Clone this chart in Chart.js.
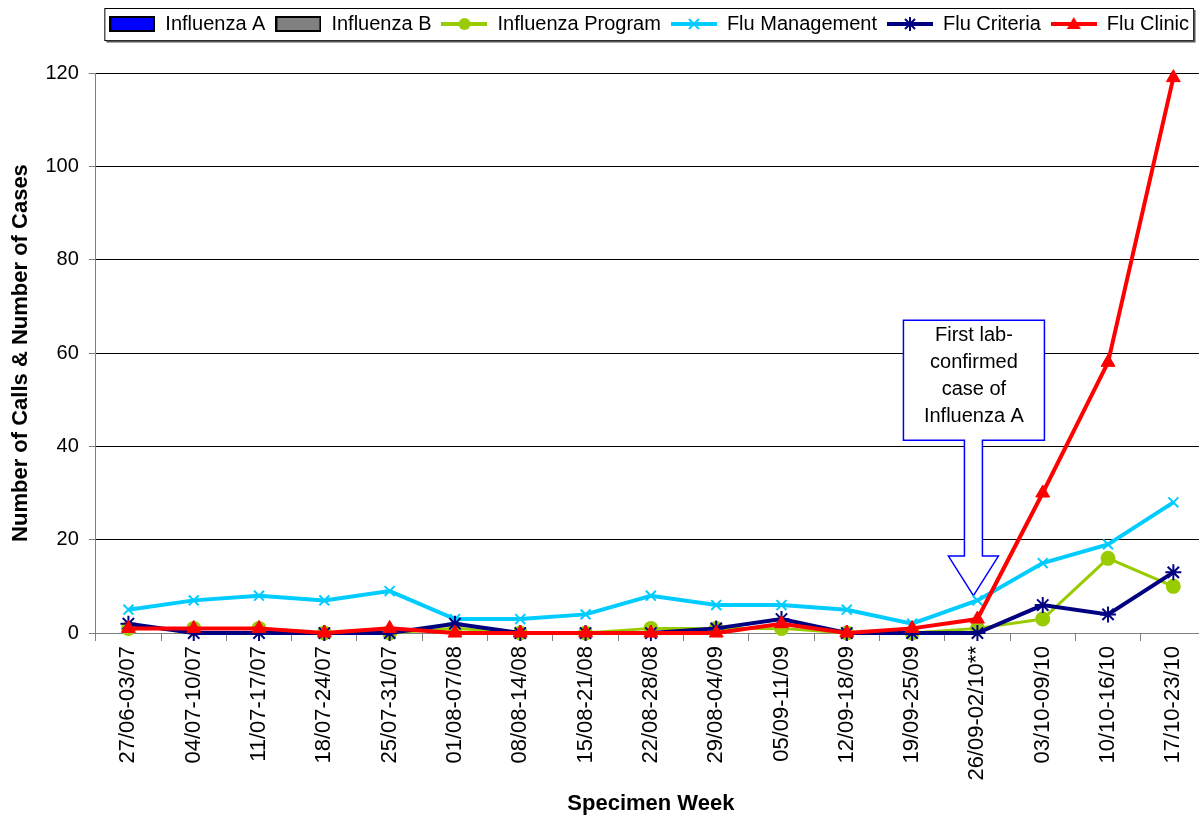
<!DOCTYPE html>
<html>
<head>
<meta charset="utf-8">
<script src="https://cdn.jsdelivr.net/npm/chart.js@4/dist/chart.umd.min.js"></script>
<style>
  body { margin: 0; background: #fff; }
  #wrap { width: 1199px; height: 821px; }
</style>
</head>
<body>
<div id="wrap"><canvas id="fluChart" width="1199" height="821"></canvas></div>
<script>
let weeks = ['27/06-03/07','04/07-10/07','11/07-17/07','18/07-24/07','25/07-31/07','01/08-07/08',
  '08/08-14/08','15/08-21/08','22/08-28/08','29/08-04/09','05/09-11/09','12/09-18/09',
  '19/09-25/09','26/09-02/10**','03/10-09/10','10/10-16/10','17/10-23/10'];
let influenzaA = [];
let influenzaB = [];
let fluProgram = [1,1,1,0,0,1,0,0,1,1,1,0,0,1,3,16,10];
let fluManagement = [5,7,8,7,9,3,3,4,8,6,6,5,2,7,15,19,28];
let fluCriteria = [2,0,0,0,0,2,0,0,0,1,3,0,0,0,6,4,13];
let fluClinic = [1,1,1,0,1,0,0,0,0,0,2,0,1,3,30,58,119];
let yTicks = [0,20,40,60,80,100,120];
let noteLines = ['First lab-','confirmed','case of','Influenza A'];
let noteWeek = 13;

const FONT = "'Liberation Sans', Arial, sans-serif";

// small legend pictures: line with marker, or filled box
function lineIcon(color, style, width) {
  let c = document.createElement('canvas');
  c.width = 46; c.height = 20;
  let g = c.getContext('2d');
  g.strokeStyle = color; g.fillStyle = color; g.lineWidth = width;
  g.beginPath(); g.moveTo(0, 10); g.lineTo(46, 10); g.stroke();
  g.lineWidth = 2;
  if (style === 'circle') {
    g.beginPath(); g.arc(23, 10, 6, 0, Math.PI * 2); g.fill();
  } else if (style === 'triangle') {
    g.beginPath(); g.moveTo(23, 3); g.lineTo(30, 15); g.lineTo(16, 15); g.closePath(); g.fill();
  } else {
    g.beginPath();
    g.moveTo(18, 5); g.lineTo(28, 15); g.moveTo(28, 5); g.lineTo(18, 15);
    if (style === 'star') { g.moveTo(23, 3); g.lineTo(23, 17); }
    g.stroke();
  }
  return c;
}
function boxIcon(color) {
  let c = document.createElement('canvas');
  c.width = 46; c.height = 18;
  let g = c.getContext('2d');
  g.fillStyle = color; g.fillRect(1, 2, 44, 14);
  g.strokeStyle = '#000'; g.lineWidth = 2; g.strokeRect(1, 2, 44, 14);
  return c;
}

const legendBox = {
  id: 'legendBox',
  beforeInit(chart) {
    // leave a gap between legend and plot
    const fit = chart.legend.fit;
    chart.legend.fit = function () { fit.call(this); this.height += 29; };
  },
  afterLayout(chart) {
    // the original plot is cut off a little past the right edge
    let area = chart.chartArea, x = chart.scales.x;
    area.right = chart.width + 7;
    area.width = area.right - area.left;
    x.right = area.right;
    x.width = x.right - x.left;
    x.configure();
  },
  afterDraw(chart) {
    let boxes = chart.legend.legendHitBoxes;
    if (!boxes || !boxes.length) return;
    let l = Math.min(...boxes.map(b => b.left)) - 5;
    let r = Math.max(...boxes.map(b => b.left + b.width)) + 4;
    let t = boxes[0].top - 6, b = boxes[0].top + boxes[0].height + 6;
    let ctx = chart.ctx;
    ctx.save();
    ctx.strokeStyle = '#000'; ctx.lineWidth = 1;
    ctx.strokeRect(l + 0.5, t + 0.5, r - l, b - t);
    ctx.strokeStyle = '#555'; ctx.lineWidth = 2;
    ctx.beginPath(); ctx.moveTo(l + 2, b + 1.5); ctx.lineTo(r + 1.5, b + 1.5); ctx.lineTo(r + 1.5, t + 2); ctx.stroke();
    ctx.restore();
  }
};

const arrowNote = {
  id: 'arrowNote',
  beforeDatasetsDraw(chart) {
    let x = chart.scales.x.getPixelForValue(noteWeek) - 4;
    let y = chart.scales.y;
    let tip = y.getPixelForValue(8), headTop = y.getPixelForValue(16.5);
    let top = y.getPixelForValue(67), bot = y.getPixelForValue(41.3);
    let ctx = chart.ctx;
    ctx.save();
    ctx.beginPath();
    ctx.moveTo(x - 70, top); ctx.lineTo(x + 71, top); ctx.lineTo(x + 71, bot);
    ctx.lineTo(x + 9, bot); ctx.lineTo(x + 9, headTop); ctx.lineTo(x + 25, headTop);
    ctx.lineTo(x, tip); ctx.lineTo(x - 25, headTop); ctx.lineTo(x - 9, headTop);
    ctx.lineTo(x - 9, bot); ctx.lineTo(x - 70, bot); ctx.closePath();
    ctx.fillStyle = '#fff'; ctx.fill();
    ctx.strokeStyle = '#0000ff'; ctx.lineWidth = 1.5; ctx.stroke();
    ctx.fillStyle = '#000'; ctx.font = '20px ' + FONT;
    ctx.textAlign = 'center'; ctx.textBaseline = 'middle';
    noteLines.forEach((s, i) => ctx.fillText(s, x + 0.5, top + 15 + i * 27));
    ctx.restore();
  }
};

let ctx = document.getElementById('fluChart').getContext('2d');
let icons = [boxIcon('#0000ff'), boxIcon('#808080'), lineIcon('#99cc00', 'circle', 4),
  lineIcon('#00ccff', 'x', 4), lineIcon('#000080', 'star', 4), lineIcon('#ff0000', 'triangle', 4)];

let fluChart = new Chart(ctx, {
  type: 'line',
  data: {
    labels: weeks,
    datasets: [
      { type: 'bar', label: 'Influenza A', data: influenzaA, backgroundColor: '#0000ff', order: 6 },
      { type: 'bar', label: 'Influenza B', data: influenzaB, backgroundColor: '#808080', order: 7 },
      { label: 'Influenza Program', data: fluProgram, borderColor: '#99cc00', backgroundColor: '#99cc00',
        borderWidth: 3, pointStyle: 'circle', pointRadius: 6, order: 4, clip: false },
      { label: 'Flu Management', data: fluManagement, borderColor: '#00ccff', backgroundColor: '#00ccff',
        borderWidth: 4, pointStyle: 'crossRot', pointRadius: 7, pointBorderWidth: 2, order: 3, clip: false },
      { label: 'Flu Criteria', data: fluCriteria, borderColor: '#000080', backgroundColor: '#000080',
        borderWidth: 4, pointStyle: 'star', pointRadius: 8, pointBorderWidth: 2, order: 2, clip: false },
      { label: 'Flu Clinic', data: fluClinic, borderColor: '#ff0000', backgroundColor: '#ff0000',
        borderWidth: 4, pointStyle: 'triangle', pointRadius: 8, pointBorderWidth: 1, order: 1, clip: false }
    ]
  },
  options: {
    responsive: false,
    animation: false,
    layout: { padding: { top: 4, right: 0, left: 8, bottom: 4 } },
    plugins: {
      tooltip: { enabled: false },
      legend: {
        position: 'top',
        align: 'end',
        labels: {
          usePointStyle: true,
          pointStyleWidth: 46,
          padding: 10,
          color: '#000',
          font: { family: FONT, size: 20 },
          generateLabels: chart => chart.data.datasets.map((d, i) => ({
            text: d.label, pointStyle: icons[i], datasetIndex: i, hidden: false,
            fontColor: '#000', lineWidth: 0, strokeStyle: 'transparent', fillStyle: 'transparent'
          }))
        }
      }
    },
    scales: {
      x: {
        offset: true,
        grid: { display: true, drawOnChartArea: false, offset: true, tickLength: 8, color: '#808080' },
        border: { color: '#808080', width: 1 },
        ticks: { color: '#000', maxRotation: 90, minRotation: 90, padding: 5, font: { family: FONT, size: 22 } },
        title: { display: true, text: 'Specimen Week', color: '#000', padding: { top: 5, bottom: 0 },
          font: { family: FONT, size: 22, weight: 'bold' } }
      },
      y: {
        min: 0, max: 120,
        afterBuildTicks: s => { s.ticks = yTicks.map(v => ({ value: v })); },
        grid: { color: '#000', lineWidth: 1, tickLength: 7, tickColor: '#808080' },
        border: { color: '#808080', width: 1 },
        ticks: { color: '#000', padding: 10, font: { family: FONT, size: 20 } },
        title: { display: true, text: 'Number of Calls & Number of Cases', color: '#000', padding: { top: 0, bottom: 1 },
          font: { family: FONT, size: 22, weight: 'bold' } }
      }
    }
  },
  plugins: [legendBox, arrowNote]
});
</script>
</body>
</html>
